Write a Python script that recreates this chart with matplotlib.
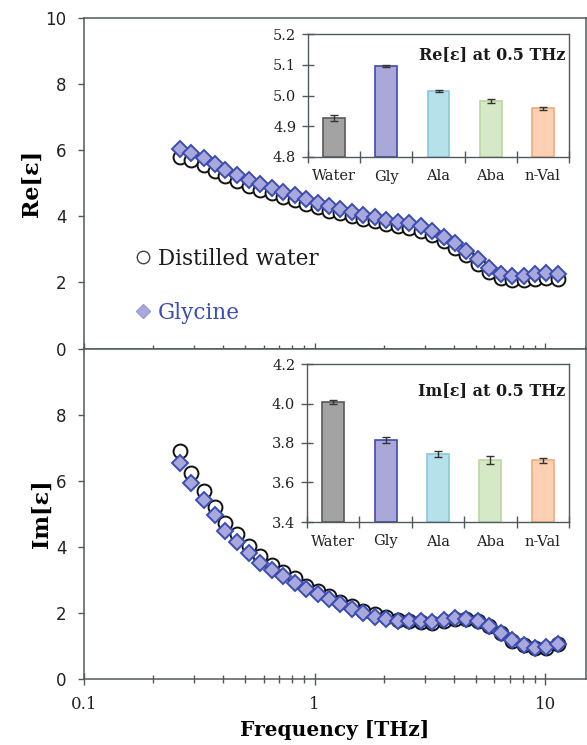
import matplotlib
matplotlib.use("Agg")
import matplotlib.pyplot as plt
from matplotlib.lines import Line2D

# ---------------- data ----------------
freq_thz = [0.26, 0.29, 0.33, 0.37, 0.41, 0.46, 0.52, 0.58, 0.65, 0.73,
            0.82, 0.92, 1.03, 1.15, 1.29, 1.45, 1.62, 1.82, 2.04, 2.29,
            2.57, 2.88, 3.23, 3.62, 4.06, 4.55, 5.10, 5.72, 6.41, 7.19,
            8.06, 9.04, 10.1, 11.3]

re_water = [5.80, 5.70, 5.55, 5.38, 5.22, 5.08, 4.93, 4.81, 4.70, 4.59,
            4.48, 4.38, 4.27, 4.17, 4.09, 4.01, 3.93, 3.85, 3.78, 3.72,
            3.66, 3.56, 3.42, 3.25, 3.05, 2.82, 2.56, 2.31, 2.12, 2.06,
            2.06, 2.10, 2.13, 2.11]
re_glycine = [6.03, 5.91, 5.75, 5.57, 5.40, 5.26, 5.10, 4.97, 4.86, 4.74,
              4.63, 4.52, 4.40, 4.30, 4.21, 4.13, 4.05, 3.97, 3.90, 3.84,
              3.79, 3.70, 3.55, 3.38, 3.18, 2.96, 2.70, 2.45, 2.25, 2.19,
              2.19, 2.25, 2.28, 2.25]

im_water = [6.91, 6.22, 5.70, 5.21, 4.71, 4.38, 4.03, 3.73, 3.46, 3.25,
            3.05, 2.82, 2.67, 2.51, 2.34, 2.21, 2.07, 1.96, 1.87, 1.80,
            1.76, 1.72, 1.68, 1.76, 1.82, 1.83, 1.76, 1.61, 1.38, 1.16,
            1.02, 0.93, 0.95, 1.05]
im_glycine = [6.53, 5.94, 5.42, 4.96, 4.49, 4.15, 3.82, 3.52, 3.30, 3.12,
              2.91, 2.73, 2.57, 2.41, 2.27, 2.12, 2.01, 1.89, 1.82, 1.77,
              1.74, 1.74, 1.73, 1.79, 1.84, 1.83, 1.75, 1.60, 1.38, 1.17,
              1.04, 0.95, 0.98, 1.07]

samples = ["Water", "Gly", "Ala", "Aba", "n-Val"]
re_05 = [4.928, 5.096, 5.015, 4.981, 4.958]
re_05_err = [0.010, 0.002, 0.003, 0.006, 0.006]
im_05 = [4.006, 3.814, 3.742, 3.714, 3.712]
im_05_err = [0.010, 0.015, 0.015, 0.020, 0.013]

xticks_main = [0.1, 1, 10]
xtick_labels = ["0.1", "1", "10"]
re_yticks = [0, 2, 4, 6, 8, 10]
im_yticks = [0, 2, 4, 6, 8]
re_inset_ticks = [4.8, 4.9, 5.0, 5.1, 5.2]
im_inset_ticks = [3.4, 3.6, 3.8, 4.0, 4.2]

# ---------------- style ----------------
SERIF = ["DejaVu Serif"]
SANS = ["DejaVu Sans"]
AXC = "#4f5a5e"
BLUE = "#3a4db0"
DFACE = "#a9a8dc"
bar_face = ["#a3a3a3", "#aaa7d9", "#b7e1ea", "#d6e9c6", "#fbd0b3"]
bar_edge = ["#5a5a5a", "#3f4cb0", "#86cadb", "#b9d7a2", "#f1ab7e"]

fig = plt.figure(figsize=(5.87, 7.45), dpi=100)
fig.patch.set_facecolor("white")

W = 587.0
H = 745.0
left = 84 / W
width = (586 - 84) / W
ax_re = fig.add_axes([left, 1 - 348.5 / H, width, (348.5 - 18) / H])
ax_im = fig.add_axes([left, 1 - 679 / H, width, (679 - 348.5) / H])


def style_main(ax):
    ax.set_xscale("log")
    ax.set_xlim(0.1, 15)
    ax.set_ylim(0, 10)
    for s in ax.spines.values():
        s.set_color(AXC)
        s.set_linewidth(1.1)
    ax.tick_params(axis="x", which="major", direction="inout", length=9,
                   width=1.0, color=AXC, top=False)
    ax.tick_params(axis="x", which="minor", direction="inout", length=6,
                   width=1.0, color=AXC, top=False)
    ax.tick_params(axis="y", which="major", direction="out", length=4.5,
                   width=1.0, color=AXC, right=False, labelsize=12, pad=8)
    ax.set_xticks(xticks_main)


style_main(ax_re)
style_main(ax_im)
ax_re.set_yticks(re_yticks)
ax_im.set_yticks(im_yticks)
ax_re.tick_params(axis="x", which="both", labelbottom=False)
ax_im.set_xticklabels(xtick_labels, fontsize=12, family=SERIF)
ax_im.tick_params(axis="x", which="major", pad=8)
for a in (ax_re, ax_im):
    for lab in a.get_yticklabels():
        lab.set_family(SANS)
        lab.set_color("#222222")
for lab in ax_im.get_xticklabels():
    lab.set_color("#222222")

# data markers
for ax, yw, yg in ((ax_re, re_water, re_glycine), (ax_im, im_water, im_glycine)):
    ax.plot(freq_thz, yw, linestyle="none", marker="o", markersize=10,
            markerfacecolor="white", markeredgecolor="#111111",
            markeredgewidth=1.4, zorder=3)
    ax.plot(freq_thz, yg, linestyle="none", marker="D", markersize=8,
            markerfacecolor=DFACE, markeredgecolor=BLUE,
            markeredgewidth=1.4, zorder=4)

ax_re.set_ylabel("Re[\u03b5]", fontsize=16, fontweight="bold", family=SERIF,
                 labelpad=2)
ax_im.set_ylabel("Im[\u03b5]", fontsize=16, fontweight="bold", family=SERIF,
                 labelpad=2)
ax_im.set_xlabel("Frequency [THz]", fontsize=14.5, fontweight="bold",
                 family=SERIF, labelpad=5)

# legend
handles = [
    Line2D([], [], linestyle="none", marker="o", markersize=9,
           markerfacecolor="white", markeredgecolor="#444444",
           markeredgewidth=1.0),
    Line2D([], [], linestyle="none", marker="D", markersize=7,
           markerfacecolor=DFACE, markeredgecolor="#9c9bd4",
           markeredgewidth=1.0),
]
leg = ax_re.legend(handles, ["Distilled water", "Glycine"],
                   loc="upper left", bbox_to_anchor=(0.10, 0.305),
                   frameon=False, handlelength=0.8, handletextpad=0.3,
                   labelspacing=1.5, borderpad=0, borderaxespad=0,
                   prop={"family": SERIF, "size": 15.5})
leg.get_texts()[0].set_color("#1a1a1a")
leg.get_texts()[1].set_color(BLUE)
leg.set_zorder(6)

# ---------------- insets ----------------
ax_in_re = fig.add_axes([308 / W, 1 - 157 / H, (569 - 308) / W, (157 - 34) / H])
ax_in_im = fig.add_axes([307 / W, 1 - 522 / H, (569 - 307) / W, (522 - 364) / H])


def style_inset(ax, vals, errs, ylim, yticks, title, fmt):
    pos = list(range(len(samples)))
    ax.bar(pos, [v - ylim[0] for v in vals], bottom=ylim[0], width=0.42,
           color=bar_face, edgecolor=bar_edge, linewidth=1.2, zorder=2)
    ax.errorbar(pos, vals, yerr=errs, fmt="none", ecolor="#333333",
                elinewidth=1.0, capsize=3, capthick=1.0, zorder=3)
    ax.set_xlim(-0.5, len(samples) - 0.5)
    ax.set_ylim(*ylim)
    ax.set_yticks(yticks)
    ax.set_yticklabels([fmt.format(t) for t in yticks], family=SERIF,
                       fontsize=10.5, color="#222222")
    ax.set_xticks([p - 0.5 for p in range(len(samples) + 1)])
    ax.set_xticklabels([])
    ax.set_xticks(pos, minor=True)
    ax.set_xticklabels(samples, minor=True, family=SERIF, fontsize=10.5,
                       color="#222222")
    ax.tick_params(axis="x", which="major", direction="inout", length=9,
                   width=1.0, color=AXC)
    ax.tick_params(axis="x", which="minor", length=0, pad=9)
    ax.tick_params(axis="y", which="major", direction="inout", length=9,
                   width=1.0, color=AXC, pad=4)
    for s in ax.spines.values():
        s.set_color(AXC)
        s.set_linewidth(1.0)
    ax.set_facecolor("white")
    ax.text(0.985, 0.83, title, transform=ax.transAxes, ha="right",
            va="center", fontsize=11.5, fontweight="bold", family=SERIF,
            color="#1a1a1a")


style_inset(ax_in_re, re_05, re_05_err, (4.8, 5.2), re_inset_ticks,
            "Re[\u03b5] at 0.5 THz", "{:.1f}")
style_inset(ax_in_im, im_05, im_05_err, (3.4, 4.2), im_inset_ticks,
            "Im[\u03b5] at 0.5 THz", "{:.1f}")

fig.savefig("out.png", dpi=100, facecolor="white")
